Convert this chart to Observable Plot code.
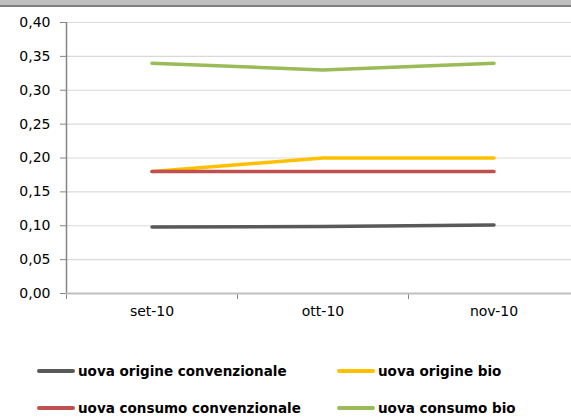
<!DOCTYPE html>
<html><head><meta charset="utf-8">
<script src="https://cdn.jsdelivr.net/npm/d3@7"></script>
<script src="https://cdn.jsdelivr.net/npm/@observablehq/plot@0.6"></script>
<style>
body{margin:0;background:#fff;width:571px;height:417px;overflow:hidden;position:relative;font-family:"DejaVu Sans",Verdana,sans-serif}
#chart{position:absolute;left:0;top:0}
#topbar{position:absolute;left:0;top:0;width:571px;height:5px;background:#bfbfbf;border-bottom:2px solid #808080;z-index:2}
.item{position:absolute;display:flex;align-items:center;font-weight:bold;font-size:13.5px;color:#000;white-space:nowrap}
.sw{display:inline-block;width:38px;height:4px;border-radius:2px;margin-right:3px}
</style></head>
<body>
<div id="chart"></div>
<div id="topbar"></div>
<div id="legend"></div>
<script>
const months = ["set-10", "ott-10", "nov-10"];
const seriesNames = ["uova origine convenzionale", "uova origine bio", "uova consumo convenzionale", "uova consumo bio"];
const seriesColors = ["#595959", "#FFC000", "#C0504D", "#9BBB59"];
const origineConv = [0.098, 0.099, 0.101];
const origineBio = [0.18, 0.20, 0.20];
const consumoConv = [0.18, 0.18, 0.18];
const consumoBio = [0.34, 0.33, 0.34];
const yTicks = [0, 0.05, 0.10, 0.15, 0.20, 0.25, 0.30, 0.35, 0.40];

const allSeries = [origineConv, origineBio, consumoConv, consumoBio];
const rows = [];
allSeries.forEach((vals, s) => vals.forEach((v, i) => rows.push({series: seriesNames[s], i, value: v})));
const bounds = months.map((m, i) => i - 0.5).concat([months.length - 0.5]);
const fmt = d => d.toFixed(2).replace(".", ",");

const chart = Plot.plot({
  width: 600, height: 417,
  marginLeft: 66, marginRight: 21, marginTop: 22, marginBottom: 124,
  style: {fontFamily: "DejaVu Sans, Verdana, sans-serif", fontSize: "14px", color: "#000", maxWidth: "none", background: "transparent"},
  x: {type: "linear", domain: [-0.5, months.length - 0.5], axis: null},
  y: {domain: [0, 0.4], axis: null},
  color: {domain: seriesNames, range: seriesColors},
  marks: [
    Plot.gridY(yTicks, {stroke: "#d9d9d9", strokeOpacity: 1, strokeWidth: 1.2}),
    Plot.axisY({ticks: yTicks, tickSize: 6, tickPadding: 10, tickFormat: fmt, stroke: "#868686", fill: "#000", fontSize: 14, label: null}),
    Plot.axisX({ticks: bounds, tickSize: 6, tickFormat: () => "", stroke: "#868686", label: null}),
    Plot.axisX({ticks: months.map((m, i) => i), tickSize: 0, tickPadding: 13, tickFormat: i => months[i], fill: "#000", fontSize: 14, label: null}),
    Plot.ruleX([-0.5], {stroke: "#868686", strokeWidth: 1.5}),
    Plot.ruleY([0], {stroke: "#bfbfbf", strokeWidth: 2}),
    Plot.line(rows, {x: "i", y: "value", z: "series", stroke: "series", strokeWidth: 3.5, strokeLinecap: "round", strokeLinejoin: "round"})
  ]
});
document.getElementById("chart").appendChild(chart);

const legendPos = [[37, 371], [337, 371], [37, 408], [337, 408]];
const legend = document.getElementById("legend");
seriesNames.forEach((name, k) => {
  const it = document.createElement("div");
  it.className = "item";
  it.style.left = legendPos[k][0] + "px";
  it.style.top = (legendPos[k][1] - 9) + "px";
  it.style.height = "18px";
  const sw = document.createElement("span");
  sw.className = "sw";
  sw.style.background = seriesColors[k];
  it.appendChild(sw);
  it.appendChild(document.createTextNode(name));
  legend.appendChild(it);
});
</script>
</body></html>
